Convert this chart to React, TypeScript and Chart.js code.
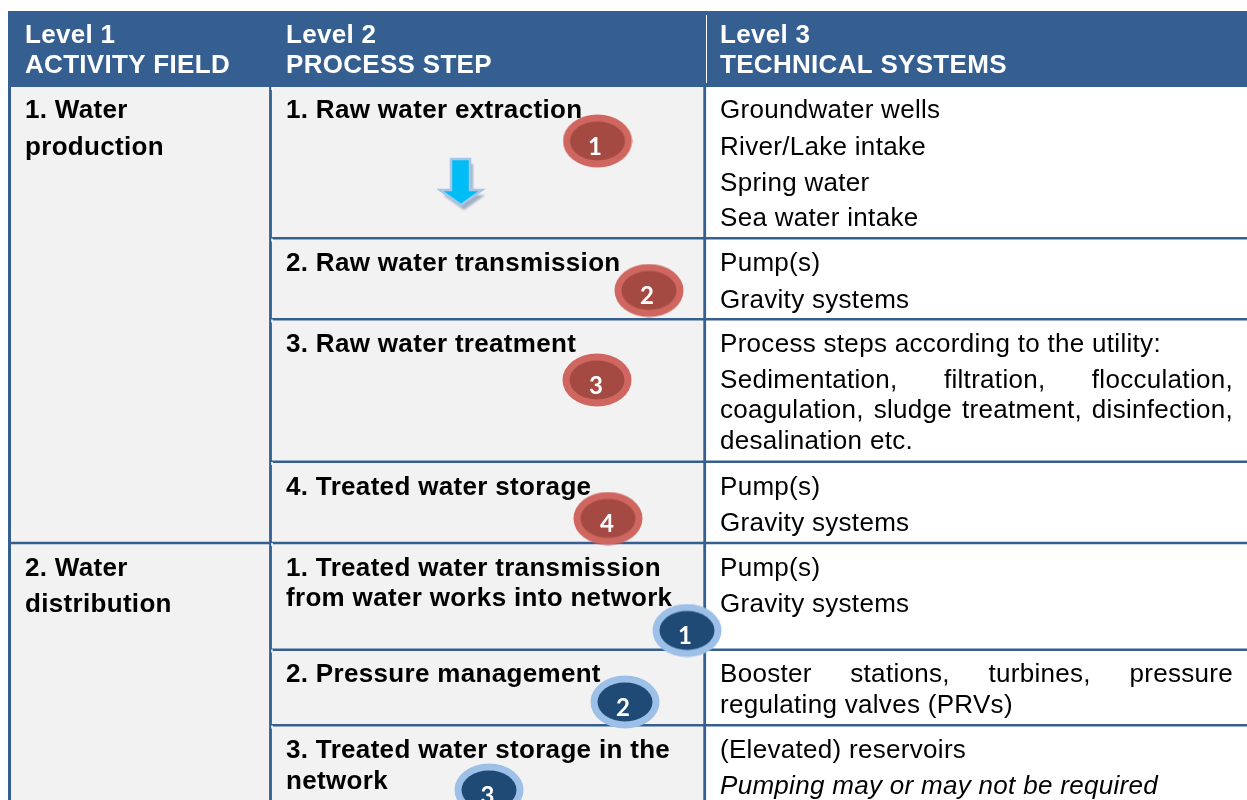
import React, { useEffect, useRef } from "react";
import { Chart, registerables } from "chart.js";

Chart.register(...registerables);

const BLUE = "#365F91";
const FONT = '"Liberation Sans", Arial, sans-serif';

const columnEdges = [8, 270.5, 704.7, 1247];
const tableTop = 11;
const headerBottom = 87;
const tableBottom = 800;
const process1Rules = [238.3, 319.3, 461.7];
const sectionRule = 543;
const process2Rules = [649.7, 725.3];
const headerDivider = [{ x: 706.5, y: 15 }, { x: 706.5, y: 83 }];
const whiteNotches = [88.5, 240, 321, 463.5, 544.5, 651, 727];

type TextRow = [string, number, number];
const headerLines: TextRow[] = [
  ["Level 1", 25, 43], ["ACTIVITY FIELD", 25, 73],
  ["Level 2", 286, 43], ["PROCESS STEP", 286, 73],
  ["Level 3", 720, 43], ["TECHNICAL SYSTEMS", 720, 73],
];
const boldLines: TextRow[] = [
  ["1. Water", 25, 118], ["production", 25, 155],
  ["2. Water", 25, 576], ["distribution", 25, 612],
  ["1. Raw water extraction", 286, 118],
  ["2. Raw water transmission", 286, 271],
  ["3. Raw water treatment", 286, 352],
  ["4. Treated water storage", 286, 495],
  ["1. Treated water transmission", 286, 576],
  ["from water works into network", 286, 606],
  ["2. Pressure management", 286, 682],
  ["3. Treated water storage in the", 286, 758],
  ["network", 286, 789],
];
const plainLines: TextRow[] = [
  ["Groundwater wells", 720, 118], ["River/Lake intake", 720, 155],
  ["Spring water", 720, 191], ["Sea water intake", 720, 226],
  ["Pump(s)", 720, 271], ["Gravity systems", 720, 308],
  ["Process steps according to the utility:", 720, 352],
  ["desalination etc.", 720, 449],
  ["Pump(s)", 720, 495], ["Gravity systems", 720, 531],
  ["Pump(s)", 720, 576], ["Gravity systems", 720, 612],
  ["regulating valves (PRVs)", 720, 713],
  ["(Elevated) reservoirs", 720, 758],
];
const justifiedLines: TextRow[] = [
  ["Sedimentation, filtration, flocculation,", 720, 388],
  ["coagulation, sludge treatment, disinfection,", 720, 418],
  ["Booster stations, turbines, pressure", 720, 682],
];
const justifiedRight = 1233;
const italicLines: TextRow[] = [["Pumping may or may not be required", 720, 794]];

type Badge = { x: number; y: number; label: string; labelX: number; labelY: number };
const redBadges: Badge[] = [
  { x: 597.5, y: 141, label: "1", labelX: 595, labelY: 155 },
  { x: 649, y: 290.5, label: "2", labelX: 647, labelY: 304 },
  { x: 597, y: 380, label: "3", labelX: 596, labelY: 394 },
  { x: 608, y: 518.5, label: "4", labelX: 607, labelY: 532 },
];
const blueBadges: Badge[] = [
  { x: 687, y: 630.5, label: "1", labelX: 685, labelY: 644 },
  { x: 625, y: 702, label: "2", labelX: 623, labelY: 716 },
  { x: 489, y: 790, label: "3", labelX: 487.5, labelY: 804 },
];
const arrowPoint = [{ x: 462, y: 184 }];

function ellipseSprite(ring: string, inner: string): HTMLCanvasElement {
  const c = document.createElement("canvas");
  c.width = 70;
  c.height = 54;
  const g = c.getContext("2d")!;
  g.fillStyle = ring;
  g.beginPath();
  g.ellipse(35, 27, 34.5, 26.5, 0, 0, Math.PI * 2);
  g.fill();
  g.fillStyle = inner;
  g.beginPath();
  g.ellipse(35, 27, 27.5, 19.5, 0, 0, Math.PI * 2);
  g.fill();
  return c;
}

function arrowSprite(): HTMLCanvasElement {
  const c = document.createElement("canvas");
  c.width = 50;
  c.height = 58;
  const g = c.getContext("2d")!;
  const shape = (dx: number, dy: number) => {
    g.beginPath();
    g.moveTo(14 + dx, 4 + dy);
    g.lineTo(33 + dx, 4 + dy);
    g.lineTo(33 + dx, 35 + dy);
    g.lineTo(45 + dx, 35 + dy);
    g.lineTo(24 + dx, 50 + dy);
    g.lineTo(3 + dx, 35 + dy);
    g.lineTo(14 + dx, 35 + dy);
    g.closePath();
  };
  g.fillStyle = "#9fb0c6";
  g.filter = "blur(1px)";
  shape(3, 5);
  g.fill();
  g.filter = "none";
  shape(0, 0);
  g.fillStyle = "#00bdf6";
  g.strokeStyle = "#a6c6e6";
  g.lineWidth = 2.5;
  g.fill();
  g.stroke();
  return c;
}

function rectPoints(x0: number, x1: number, y0: number, y1: number) {
  return [
    { x: x0, y: y0 }, { x: x1, y: y0 }, { x: x1, y: y1 }, { x: x0, y: y1 }, { x: x0, y: y0 },
  ];
}

function cellDataset(label: string, pts: { x: number; y: number }[], color: string) {
  return {
    label, type: "scatter", data: pts, showLine: true, fill: "shape",
    backgroundColor: color, borderColor: color, borderWidth: 0, pointRadius: 0, clip: false,
  };
}

function ruleDataset(label: string, pts: { x: number; y: number }[], width: number, color = BLUE) {
  return {
    label, type: "scatter", data: pts, showLine: true, fill: false,
    borderColor: color, borderWidth: width, pointRadius: 0, clip: false,
  };
}

const textPlugin = {
  id: "tableText",
  afterDatasetDraw(chart: any, args: any) {
    if (args.meta.label !== "textLayer") return;
    const ctx = chart.ctx;
    const sx = chart.scales.x;
    const sy = chart.scales.y;
    const put = (rows: TextRow[], font: string, color: string, spacing: string) => {
      ctx.font = font;
      ctx.fillStyle = color;
      ctx.letterSpacing = spacing;
      rows.forEach(([t, x, y]) => ctx.fillText(t, sx.getPixelForValue(x), sy.getPixelForValue(y)));
    };
    ctx.save();
    ctx.textBaseline = "alphabetic";
    ctx.textAlign = "left";
    put(headerLines, `bold 26px ${FONT}`, "#ffffff", "0.3px");
    put(boldLines, `bold 26px ${FONT}`, "#000000", "0.32px");
    put(plainLines, `26px ${FONT}`, "#000000", "0.3px");
    put(italicLines, `italic 26px ${FONT}`, "#000000", "0.3px");
    ctx.font = `26px ${FONT}`;
    ctx.letterSpacing = "0.3px";
    ctx.fillStyle = "#000000";
    justifiedLines.forEach(([t, x, y]) => {
      const words = t.split(" ");
      const widths = words.map((w) => ctx.measureText(w).width);
      const used = widths.reduce((a, b) => a + b, 0);
      const left = sx.getPixelForValue(x);
      const gap = (sx.getPixelForValue(justifiedRight) - left - used) / (words.length - 1);
      let cur = left;
      words.forEach((w, i) => {
        ctx.fillText(w, cur, sy.getPixelForValue(y));
        cur += widths[i] + gap;
      });
    });
    ctx.letterSpacing = "0px";
    ctx.restore();
  },
  afterDatasetsDraw(chart: any) {
    const ctx = chart.ctx;
    const sx = chart.scales.x;
    const sy = chart.scales.y;
    ctx.save();
    ctx.font = 'bold 24px Lato, "Open Sans", sans-serif';
    ctx.fillStyle = "#ffffff";
    ctx.textAlign = "center";
    ctx.textBaseline = "alphabetic";
    [...redBadges, ...blueBadges].forEach((b) =>
      ctx.fillText(b.label, sx.getPixelForValue(b.labelX), sy.getPixelForValue(b.labelY))
    );
    ctx.restore();
  },
};

export default function App() {
  const ref = useRef<HTMLCanvasElement>(null);
  useEffect(() => {
    document.body.style.margin = "0";
    const [c0, c1, c2, c3] = columnEdges;
    const datasets: any[] = [
      {
        label: "red badges", type: "scatter", data: redBadges,
        pointStyle: ellipseSprite("#cf6660", "#a54a43"), pointRadius: 10, clip: false,
      },
      {
        label: "blue badges", type: "scatter", data: blueBadges,
        pointStyle: ellipseSprite("#9cc0e7", "#1e4a75"), pointRadius: 10, clip: false,
      },
      {
        label: "arrow", type: "scatter", data: arrowPoint,
        pointStyle: arrowSprite(), pointRadius: 10, clip: false,
      },
      { label: "textLayer", type: "scatter", data: [], clip: false },
      ruleDataset("divider", headerDivider, 1, "#ffffff"),
      ...whiteNotches.map((y) =>
        ruleDataset("notch", [{ x: c1 + 1.5, y: y - 1.5 }, { x: c1 + 1.5, y: y + 1.5 }], 1.5, "#ffffff")
      ),
      ...process1Rules.map((y) => ruleDataset("rule", [{ x: c1, y }, { x: c3, y }], 2.6)),
      ...process2Rules.map((y) => ruleDataset("rule", [{ x: c1, y }, { x: c3, y }], 2.6)),
      ruleDataset("section", [{ x: c0, y: sectionRule }, { x: c3, y: sectionRule }], 2.6),
      ruleDataset("left", [{ x: c0 + 1.5, y: headerBottom }, { x: c0 + 1.5, y: tableBottom }], 3),
      ruleDataset("col1", [{ x: c1, y: headerBottom }, { x: c1, y: tableBottom }], 2.8),
      ruleDataset("col2", [{ x: c2, y: headerBottom }, { x: c2, y: tableBottom }], 2.8),
      cellDataset("header", rectPoints(c0, c3, tableTop, headerBottom), BLUE),
      cellDataset("level1", rectPoints(c0, c1, headerBottom, tableBottom), "#f2f2f2"),
      cellDataset("level2", rectPoints(c1, c2, headerBottom, tableBottom), "#f2f2f2"),
    ];
    const chart = new Chart(ref.current!, {
      type: "scatter",
      data: { datasets },
      plugins: [textPlugin],
      options: {
        animation: false,
        responsive: false,
        layout: { padding: 0, autoPadding: false },
        plugins: { legend: { display: false }, tooltip: { enabled: false } },
        scales: {
          x: { type: "linear", min: 0, max: 1247, display: false },
          y: { type: "linear", min: 0, max: 800, reverse: true, display: false },
        },
      },
    } as any);
    return () => chart.destroy();
  }, []);
  return <canvas ref={ref} width={1247} height={800} style={{ display: "block" }} />;
}
